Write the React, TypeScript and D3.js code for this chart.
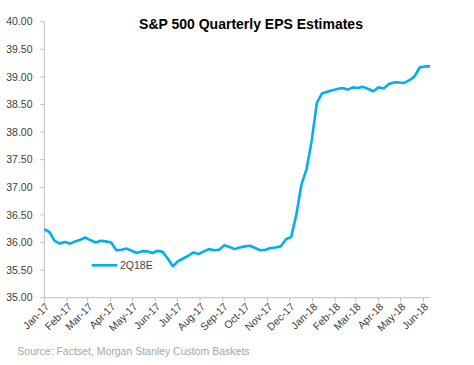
import React from "react";
import * as d3 from "d3";

const START_DATE = "2017-01-01";
const END_DATE = "2018-06-10";
const seriesName = "2Q18E";
// weekly estimates starting at START_DATE
const epsValues = [
  36.24, 36.19, 36.03, 35.98, 36.01, 35.98, 36.02, 36.05, 36.09, 36.04,
  36.0, 36.03, 36.02, 36.0, 35.86, 35.87, 35.89, 35.85, 35.81, 35.84,
  35.84, 35.81, 35.85, 35.83, 35.71, 35.57, 35.66, 35.71, 35.76, 35.82,
  35.79, 35.84, 35.88, 35.86, 35.87, 35.95, 35.92, 35.88, 35.91, 35.93,
  35.94, 35.9, 35.86, 35.87, 35.9, 35.91, 35.93, 36.06, 36.1, 36.5,
  37.05, 37.33, 37.85, 38.53, 38.7, 38.73, 38.76, 38.78, 38.8, 38.77,
  38.81, 38.8, 38.82, 38.78, 38.74, 38.81, 38.79, 38.87, 38.9, 38.9,
  38.89, 38.94, 39.01, 39.17, 39.19, 39.19,
];
const yTicks = [35, 35.5, 36, 36.5, 37, 37.5, 38, 38.5, 39, 39.5, 40];
const title = "S&P 500 Quarterly EPS Estimates";
const source = "Source: Factset, Morgan Stanley Custom Baskets";

const W = 474;
const H = 365;
const left = 44.3;
const right = 430;
const top = 21.7;
const bottom = 297.7;
const FONT = "'Liberation Sans', Arial, sans-serif";

export default function App() {
  const start = d3.timeParse("%Y-%m-%d")(START_DATE)!;
  const end = d3.timeParse("%Y-%m-%d")(END_DATE)!;
  const data = epsValues.map((v, i) => ({ date: d3.timeDay.offset(start, i * 7), v }));
  const x = d3.scaleTime().domain([start, end]).range([left, right]);
  const y = d3.scaleLinear().domain([35, 40]).range([bottom, top]);
  const line = d3
    .line<{ date: Date; v: number }>()
    .x((d) => x(d.date))
    .y((d) => y(d.v));
  const months = d3.timeMonth.range(start, end);
  const fmt = d3.timeFormat("%b-%y");
  const axisColor = "#bfbfbf";
  const textColor = "#404040";
  const lineColor = "#00b0f0";

  return (
    <svg
      width={W}
      height={H}
      style={{ position: "absolute", left: 0, top: 0, background: "#fff" }}
      fontFamily={FONT}
    >
      <text x={251} y={29} textAnchor="middle" fontSize={14} fontWeight="bold" fill="#000">
        {title}
      </text>
      {/* y axis */}
      <line x1={left} x2={left} y1={top} y2={bottom} stroke={axisColor} />
      {yTicks.map((t) => (
        <g key={t}>
          <line x1={left - 4} x2={left} y1={y(t)} y2={y(t)} stroke={axisColor} />
          <text
            x={32.5}
            y={y(t)}
            dy="0.35em"
            textAnchor="end"
            fontSize={10.5}
            fill={textColor}
          >
            {t.toFixed(2)}
          </text>
        </g>
      ))}
      {/* x axis */}
      <line x1={left} x2={right} y1={bottom} y2={bottom} stroke={axisColor} />
      {months.map((m) => (
        <g key={m.toISOString()}>
          <line x1={x(m)} x2={x(m)} y1={bottom} y2={bottom + 4} stroke={axisColor} />
          <text
            transform={`translate(${x(m) + 3},${bottom + 7}) rotate(-45)`}
            textAnchor="end"
            dy="0.35em"
            fontSize={10.5}
            fill={textColor}
          >
            {fmt(m)}
          </text>
        </g>
      ))}
      <path d={line(data) || ""} fill="none" stroke={lineColor} strokeWidth={2.6} strokeLinejoin="round" />
      {/* legend */}
      <line x1={91.7} x2={117.3} y1={265.3} y2={265.3} stroke={lineColor} strokeWidth={2.6} />
      <text x={120} y={265.3} dy="0.35em" fontSize={10.5} fill={textColor}>
        {seriesName}
      </text>
      <text x={17.3} y={355} fontSize={10.5} fill="#a6a6a6">
        {source}
      </text>
    </svg>
  );
}
